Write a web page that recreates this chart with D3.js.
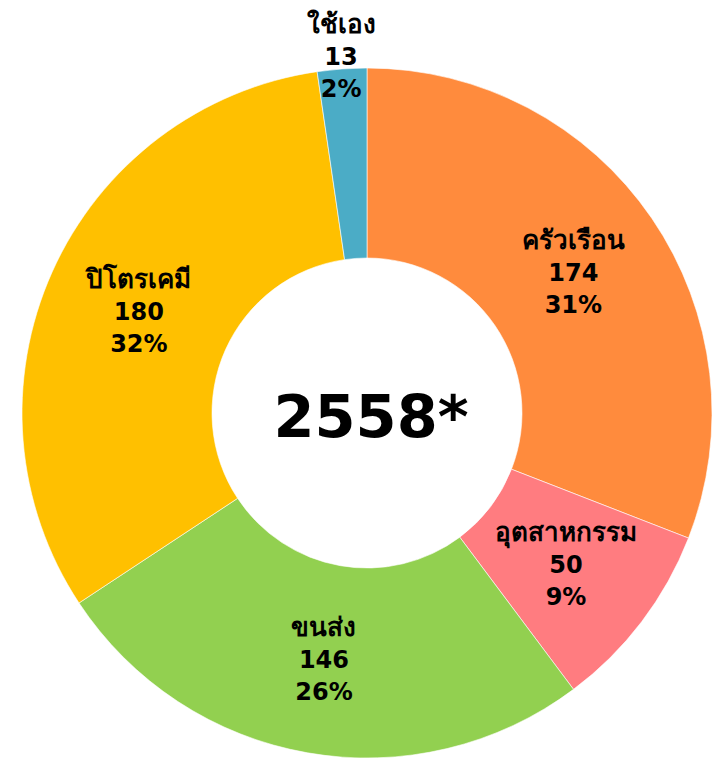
<!DOCTYPE html>
<html><head><meta charset="utf-8">
<script src="https://cdn.jsdelivr.net/npm/d3@7"></script>
<style>html,body{margin:0;padding:0;background:#fff;}svg{display:block;}</style>
</head><body>
<script>
const categories = ["ครัวเรือน", "อุตสาหกรรม", "ขนส่ง", "ปิโตรเคมี", "ใช้เอง"];
const values = [174, 50, 146, 180, 13];
const percents = ["31%", "9%", "26%", "32%", "2%"];
const colors = ["#FF8B3D", "#FF7C80", "#92D050", "#FFC000", "#4BACC6"];
const centerLabel = "2558*";

const W = 717, H = 758;
const cx = 367, cy = 413, rOuter = 345, rInner = 155;
const font = "'DejaVu Sans', Tahoma, Verdana, sans-serif";

const svg = d3.select("body").append("svg").attr("width", W).attr("height", H);
const g = svg.append("g").attr("transform", `translate(${cx},${cy})`);

const data = categories.map((c, i) => ({cat: c, value: values[i], pct: percents[i], color: colors[i]}));
const pie = d3.pie().value(d => d.value).sort(null);
const arc = d3.arc().innerRadius(rInner).outerRadius(rOuter);
const arcs = pie(data);

g.selectAll("path").data(arcs).join("path")
  .attr("d", arc)
  .attr("fill", d => d.data.color)
  .attr("stroke", "#fff").attr("stroke-width", 0.6);

const labelArc = d3.arc().innerRadius(250).outerRadius(250);
const outerLabelArc = d3.arc().innerRadius(358).outerRadius(358);

const lh = 32;
arcs.forEach(a => {
  const small = (a.endAngle - a.startAngle) < 0.3;
  const [x, y] = small ? outerLabelArc.centroid(a) : labelArc.centroid(a);
  const t = g.append("text")
    .attr("text-anchor", "middle")
    .attr("font-family", font).attr("font-weight", "bold")
    .attr("font-size", 24).attr("fill", "#000");
  [a.data.cat, String(a.data.value), a.data.pct].forEach((s, i) => {
    t.append("tspan").attr("x", x).attr("y", y + (i - 1) * lh + 9)
      .attr("font-size", i === 0 ? 26 : 24).text(s);
  });
});

g.append("text").attr("x", 4).attr("y", 24)
  .attr("text-anchor", "middle")
  .attr("font-family", font).attr("font-weight", "bold")
  .attr("font-size", 59).attr("fill", "#000")
  .text(centerLabel);
</script>
</body></html>
